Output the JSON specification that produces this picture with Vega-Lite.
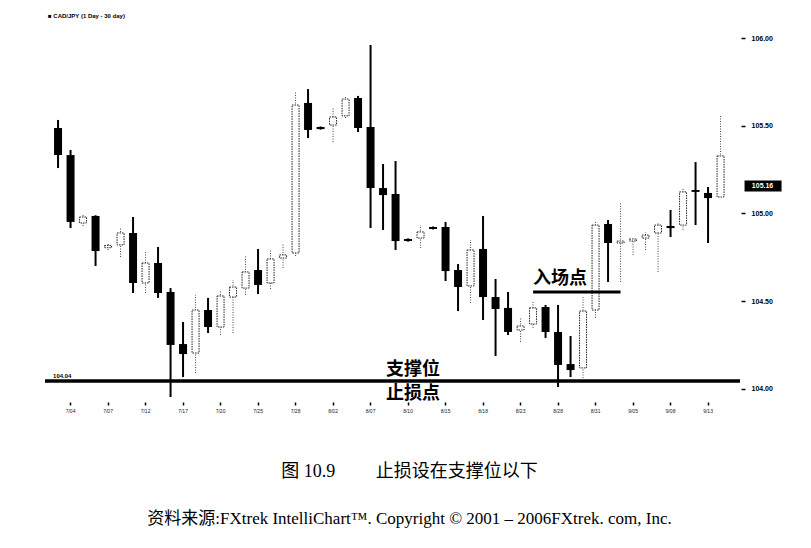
{
  "$schema": "https://vega.github.io/schema/vega-lite/v6.json",
  "width": 695,
  "height": 362,
  "autosize": {"type": "none"},
  "padding": {"left": 45, "top": 38, "right": 71, "bottom": 148},
  "background": "white",
  "config": {"view": {"stroke": null}, "font": "Liberation Sans"},
  "title": {
    "text": "图 10.9\u3000\u3000\u00a0止损设在支撑位以下",
    "subtitle": "资料来源:FXtrek IntelliChart™. Copyright © 2001 – 2006FXtrek. com, Inc.",
    "orient": "bottom",
    "anchor": "middle",
    "dx": 17,
    "offset": 50,
    "font": "Liberation Serif, Noto Sans CJK SC",
    "fontSize": 18,
    "fontWeight": "normal",
    "color": "black",
    "subtitleFont": "Liberation Serif, Noto Sans CJK SC",
    "subtitleFontSize": 17,
    "subtitleColor": "black",
    "subtitlePadding": 30
  },
  "data": {
    "values": [
      {"d": "7/03", "o": 105.487, "h": 105.533, "l": 105.259, "c": 105.333},
      {"d": "7/04", "o": 105.333, "h": 105.362, "l": 104.917, "c": 104.952},
      {"d": "7/05", "o": 104.946, "h": 104.997, "l": 104.929, "c": 104.980},
      {"d": "7/06", "o": 104.986, "h": 104.990, "l": 104.701, "c": 104.786},
      {"d": "7/07", "o": 104.805, "h": 104.832, "l": 104.792, "c": 104.818},
      {"d": "7/10", "o": 104.821, "h": 104.917, "l": 104.752, "c": 104.889},
      {"d": "7/11", "o": 104.889, "h": 104.980, "l": 104.547, "c": 104.604},
      {"d": "7/12", "o": 104.604, "h": 104.781, "l": 104.547, "c": 104.718},
      {"d": "7/13", "o": 104.718, "h": 104.809, "l": 104.519, "c": 104.547},
      {"d": "7/14", "o": 104.553, "h": 104.575, "l": 103.954, "c": 104.251},
      {"d": "7/17", "o": 104.256, "h": 104.382, "l": 104.068, "c": 104.199},
      {"d": "7/18", "o": 104.205, "h": 104.536, "l": 104.091, "c": 104.450},
      {"d": "7/19", "o": 104.450, "h": 104.519, "l": 104.319, "c": 104.353},
      {"d": "7/20", "o": 104.353, "h": 104.564, "l": 104.308, "c": 104.530},
      {"d": "7/21", "o": 104.524, "h": 104.621, "l": 104.319, "c": 104.581},
      {"d": "7/24", "o": 104.575, "h": 104.758, "l": 104.536, "c": 104.667},
      {"d": "7/25", "o": 104.678, "h": 104.798, "l": 104.541, "c": 104.593},
      {"d": "7/26", "o": 104.604, "h": 104.798, "l": 104.570, "c": 104.741},
      {"d": "7/27", "o": 104.746, "h": 104.832, "l": 104.689, "c": 104.764},
      {"d": "7/28", "o": 104.775, "h": 105.692, "l": 104.758, "c": 105.618},
      {"d": "7/31", "o": 105.630, "h": 105.709, "l": 105.430, "c": 105.476},
      {"d": "8/01", "o": 105.493, "h": 105.496, "l": 105.478, "c": 105.481},
      {"d": "8/02", "o": 105.504, "h": 105.601, "l": 105.407, "c": 105.550},
      {"d": "8/03", "o": 105.556, "h": 105.664, "l": 105.544, "c": 105.652},
      {"d": "8/04", "o": 105.658, "h": 105.670, "l": 105.464, "c": 105.487},
      {"d": "8/07", "o": 105.493, "h": 105.960, "l": 104.917, "c": 105.145},
      {"d": "8/08", "o": 105.145, "h": 105.282, "l": 104.906, "c": 105.105},
      {"d": "8/09", "o": 105.111, "h": 105.299, "l": 104.792, "c": 104.843},
      {"d": "8/10", "o": 104.855, "h": 104.858, "l": 104.840, "c": 104.843},
      {"d": "8/11", "o": 104.860, "h": 104.934, "l": 104.803, "c": 104.895},
      {"d": "8/14", "o": 104.923, "h": 104.926, "l": 104.909, "c": 104.912},
      {"d": "8/15", "o": 104.923, "h": 104.952, "l": 104.615, "c": 104.672},
      {"d": "8/16", "o": 104.678, "h": 104.712, "l": 104.444, "c": 104.581},
      {"d": "8/17", "o": 104.587, "h": 104.849, "l": 104.490, "c": 104.792},
      {"d": "8/18", "o": 104.798, "h": 104.986, "l": 104.393, "c": 104.524},
      {"d": "8/21", "o": 104.524, "h": 104.627, "l": 104.188, "c": 104.456},
      {"d": "8/22", "o": 104.462, "h": 104.553, "l": 104.308, "c": 104.325},
      {"d": "8/23", "o": 104.336, "h": 104.405, "l": 104.268, "c": 104.359},
      {"d": "8/24", "o": 104.370, "h": 104.496, "l": 104.348, "c": 104.462},
      {"d": "8/25", "o": 104.467, "h": 104.479, "l": 104.291, "c": 104.325},
      {"d": "8/28", "o": 104.325, "h": 104.479, "l": 104.011, "c": 104.137},
      {"d": "8/29", "o": 104.142, "h": 104.302, "l": 104.068, "c": 104.108},
      {"d": "8/30", "o": 104.120, "h": 104.524, "l": 104.063, "c": 104.444},
      {"d": "8/31", "o": 104.450, "h": 104.957, "l": 104.405, "c": 104.934},
      {"d": "9/01", "o": 104.940, "h": 104.963, "l": 104.610, "c": 104.832},
      {"d": "9/04", "o": 104.832, "h": 105.060, "l": 104.610, "c": 104.843},
      {"d": "9/05", "o": 104.843, "h": 104.858, "l": 104.764, "c": 104.855},
      {"d": "9/06", "o": 104.860, "h": 104.895, "l": 104.792, "c": 104.877},
      {"d": "9/07", "o": 104.889, "h": 104.952, "l": 104.667, "c": 104.934},
      {"d": "9/08", "o": 104.929, "h": 105.020, "l": 104.866, "c": 104.917},
      {"d": "9/11", "o": 104.934, "h": 105.145, "l": 104.906, "c": 105.123},
      {"d": "9/12", "o": 105.134, "h": 105.293, "l": 104.934, "c": 105.123},
      {"d": "9/13", "o": 105.117, "h": 105.151, "l": 104.832, "c": 105.088},
      {"d": "9/14", "o": 105.094, "h": 105.556, "l": 105.094, "c": 105.328}
    ]
  },
  "layer": [
    {
      "transform": [{"filter": "datum.c >= datum.o"}],
      "mark": {"type": "rule", "strokeDash": [1, 1.5], "strokeWidth": 1, "color": "#444"},
      "encoding": {
        "x": {
          "field": "d", "type": "ordinal", "title": null,
          "scale": {"type": "band", "paddingInner": 0, "paddingOuter": 0.8, "align": 0.34},
          "axis": {
            "orient": "bottom",
            "values": ["7/04","7/07","7/12","7/17","7/20","7/25","7/28","8/02","8/07","8/10","8/15","8/18","8/23","8/28","8/31","9/05","9/08","9/13"],
            "domain": false, "grid": false, "ticks": true, "tickSize": 3, "tickWidth": 1.5, "tickColor": "black",
            "labelFontSize": 5, "labelColor": "#222", "labelPadding": 3, "labelAngle": 0, "offset": 2
          }
        },
        "y": {
          "field": "l", "type": "quantitative", "title": null,
          "scale": {"domain": [103.9373, 106], "nice": false, "zero": false},
          "axis": {
            "orient": "right", "values": [104, 104.5, 105, 105.5, 106], "format": ".2f",
            "domain": false, "grid": false, "tickSize": 4, "tickWidth": 1.5, "tickColor": "black",
            "labelFontSize": 7, "labelFontWeight": "bold", "labelColor": "black", "labelPadding": 6, "offset": 1
          }
        },
        "y2": {"field": "h"}
      }
    },
    {
      "transform": [{"filter": "datum.c < datum.o"}],
      "mark": {"type": "rule", "strokeWidth": 2, "color": "black"},
      "encoding": {
        "x": {"field": "d", "type": "ordinal", "title": null},
        "y": {"field": "l", "type": "quantitative", "title": null},
        "y2": {"field": "h"}
      }
    },
    {
      "transform": [{"filter": "datum.c >= datum.o"}],
      "mark": {"type": "bar", "size": 7, "fill": "white", "stroke": "#222", "strokeWidth": 1, "strokeDash": [1.5, 1]},
      "encoding": {
        "x": {"field": "d", "type": "ordinal", "title": null},
        "y": {"field": "o", "type": "quantitative", "title": null},
        "y2": {"field": "c"}
      }
    },
    {
      "transform": [{"filter": "datum.c < datum.o"}],
      "mark": {"type": "bar", "size": 8, "fill": "black"},
      "encoding": {
        "x": {"field": "d", "type": "ordinal", "title": null},
        "y": {"field": "o", "type": "quantitative", "title": null},
        "y2": {"field": "c"}
      }
    },
    {
      "data": {"values": [{}]},
      "mark": {"type": "rule", "strokeWidth": 3.5, "color": "black"},
      "encoding": {"y": {"datum": 104.046, "type": "quantitative", "title": null}}
    },
    {
      "data": {"values": [{}]},
      "mark": {"type": "rule", "strokeWidth": 3, "color": "black"},
      "encoding": {
        "x": {"datum": "8/24", "type": "ordinal", "title": null},
        "x2": {"datum": "9/04"},
        "y": {"datum": 104.553, "type": "quantitative", "title": null}
      }
    },
    {
      "data": {"values": [{}]},
      "mark": {"type": "text", "text": "入场点", "font": "Noto Sans CJK SC", "fontSize": 18, "fontWeight": "bold", "align": "center", "baseline": "middle", "dx": 2, "color": "black"},
      "encoding": {
        "x": {"datum": "8/28", "type": "ordinal", "title": null},
        "y": {"datum": 104.625, "type": "quantitative", "title": null}
      }
    },
    {
      "data": {"values": [{}]},
      "mark": {"type": "text", "text": "支撑位", "font": "Noto Sans CJK SC", "fontSize": 18, "fontWeight": "bold", "align": "center", "baseline": "middle", "dx": 5, "color": "black"},
      "encoding": {
        "x": {"datum": "8/10", "type": "ordinal", "title": null},
        "y": {"datum": 104.11, "type": "quantitative", "title": null}
      }
    },
    {
      "data": {"values": [{}]},
      "mark": {"type": "text", "text": "止损点", "font": "Noto Sans CJK SC", "fontSize": 18, "fontWeight": "bold", "align": "center", "baseline": "middle", "dx": 5, "color": "black"},
      "encoding": {
        "x": {"datum": "8/10", "type": "ordinal", "title": null},
        "y": {"datum": 103.972, "type": "quantitative", "title": null}
      }
    },
    {
      "data": {"values": [{}]},
      "mark": {"type": "text", "text": "104.04", "fontSize": 6, "fontWeight": "bold", "align": "left", "baseline": "middle", "dx": -5, "dy": -5, "color": "black"},
      "encoding": {
        "x": {"datum": "7/03", "type": "ordinal", "title": null},
        "y": {"datum": 104.046, "type": "quantitative", "title": null}
      }
    },
    {
      "data": {"values": [{}]},
      "mark": {"type": "text", "text": "■ CAD/JPY (1 Day - 30 day)", "fontSize": 6, "fontWeight": "bold", "align": "left", "baseline": "middle", "dx": -10, "color": "black"},
      "encoding": {
        "x": {"datum": "7/03", "type": "ordinal", "title": null},
        "y": {"datum": 106.125, "type": "quantitative", "title": null}
      }
    },
    {
      "data": {"values": [{}]},
      "mark": {"type": "point", "shape": "M2.4,-0.55H6.1V0.55H2.4Z", "size": 400, "filled": true, "color": "black", "opacity": 1},
      "encoding": {
        "x": {"datum": "9/14", "type": "ordinal", "title": null},
        "y": {"datum": 105.157, "type": "quantitative", "title": null}
      }
    },
    {
      "data": {"values": [{}]},
      "mark": {"type": "text", "text": "105.16", "fontSize": 7, "fontWeight": "bold", "align": "center", "baseline": "middle", "dx": 42, "color": "white"},
      "encoding": {
        "x": {"datum": "9/14", "type": "ordinal", "title": null},
        "y": {"datum": 105.157, "type": "quantitative", "title": null}
      }
    }
  ]
}
